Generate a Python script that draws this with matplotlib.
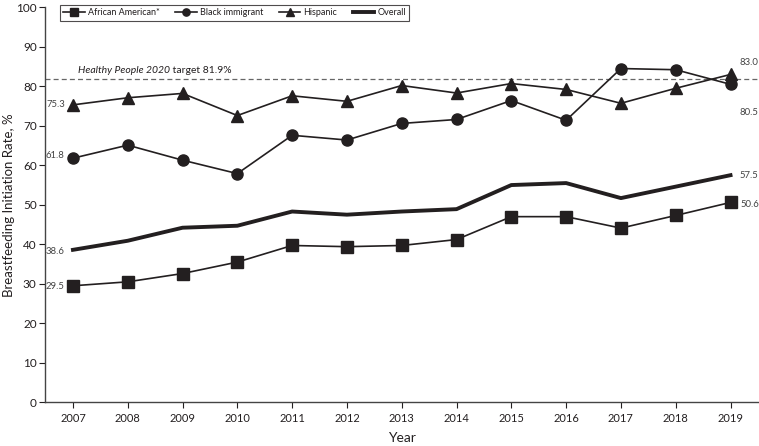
import matplotlib
matplotlib.use("Agg")
import matplotlib.pyplot as plt

years = list(range(2007, 2020))
african_american = [29.5, 30.5, 32.6, 35.5, 39.7, 39.4, 39.7, 41.2, 47.0, 47.0, 44.1, 47.3, 50.6]
black_immigrant = [61.8, 65.1, 61.3, 57.9, 67.6, 66.4, 70.6, 71.6, 76.4, 71.4, 84.5, 84.2, 80.5]
hispanic = [75.3, 77.1, 78.2, 72.6, 77.6, 76.2, 80.2, 78.3, 80.7, 79.2, 75.7, 79.5, 83.0]
overall = [38.6, 40.9, 44.2, 44.7, 48.3, 47.5, 48.3, 48.9, 55.0, 55.5, 51.7, 54.6, 57.5]
target = 81.9

ink = "#231f20"
plt.rcParams["font.family"] = ["Lato", "DejaVu Sans"]

fig = plt.figure(figsize=(7.59, 4.46), dpi=100)
ax = fig.add_axes([0.0593, 0.098, 0.9407, 0.8856])

ax.axhline(target, color="#666666", lw=0.9, ls=(0, (4, 2.5)), zorder=1)
ax.plot(years, african_american, color=ink, lw=1.2, marker="s", ms=8, label="African American*")
ax.plot(years, black_immigrant, color=ink, lw=1.2, marker="o", ms=8, label="Black immigrant")
ax.plot(years, hispanic, color=ink, lw=1.2, marker="^", ms=8, label="Hispanic")
ax.plot(years, overall, color=ink, lw=2.8, label="Overall")

# end labels
lab = dict(fontsize=6.8, color="#444444", va="center")
ax.text(years[0] - 0.15, hispanic[0], f"{hispanic[0]:.1f}", ha="right", **lab)
ax.text(years[0] - 0.15, black_immigrant[0] + 0.6, f"{black_immigrant[0]:.1f}", ha="right", **lab)
ax.text(years[0] - 0.15, overall[0] - 0.5, f"{overall[0]:.1f}", ha="right", **lab)
ax.text(years[0] - 0.15, african_american[0] - 0.3, f"{african_american[0]:.1f}", ha="right", **lab)
ax.text(years[-1] + 0.17, hispanic[-1] + 3.0, f"{hispanic[-1]:.1f}", ha="left", **lab)
ax.text(years[-1] + 0.17, black_immigrant[-1] - 7.2, f"{black_immigrant[-1]:.1f}", ha="left", **lab)
ax.text(years[-1] + 0.17, overall[-1] - 0.2, f"{overall[-1]:.1f}", ha="left", **lab)
ax.text(years[-1] + 0.19, african_american[-1] - 0.4, f"{african_american[-1]:.1f}", ha="left", **lab)

t1 = ax.text(years[0] + 0.1, target + 0.9, "Healthy People 2020", fontsize=7.5, style="italic",
             color=ink, va="bottom", ha="left")
ax.annotate(" target 81.9%", xy=(1, 0), xycoords=t1, fontsize=7.5, color=ink, va="bottom", ha="left")

ax.set_xlim(2006.49, 2019.52)
ax.set_ylim(0, 100)
ax.set_xticks(years)
ax.set_yticks(range(0, 101, 10))
ax.tick_params(colors=ink, length=4, width=0.8)
ax.tick_params(axis="y", labelsize=8.5, pad=2)
ax.tick_params(axis="x", labelsize=8, pad=4)
ax.spines["top"].set_visible(False)
ax.spines["right"].set_visible(False)
for s in ("left", "bottom"):
    ax.spines[s].set_color("#444444")
    ax.spines[s].set_linewidth(1.0)

ax.set_xlabel("Year", fontsize=10, color=ink)
ax.xaxis.set_label_coords(0.5, -0.074)
ax.set_ylabel("Breastfeeding Initiation Rate, %", fontsize=9.5, color=ink)
ax.yaxis.set_label_coords(-0.042, 0.5)

leg = ax.legend(loc="upper left", bbox_to_anchor=(0.021, 1.005), ncol=4, frameon=True,
                fancybox=False, fontsize=6.5, handlelength=2.4, markerscale=0.65,
                borderaxespad=0, columnspacing=1.7, borderpad=0.35, handletextpad=0.35)
leg.get_frame().set_edgecolor(ink)
leg.get_frame().set_linewidth(0.8)
for t in leg.get_texts():
    t.set_color(ink)

fig.savefig("out.png", dpi=100)
